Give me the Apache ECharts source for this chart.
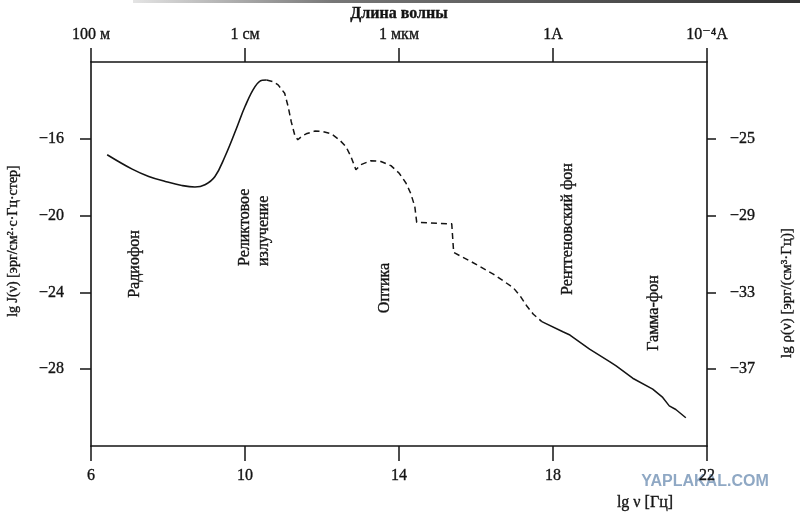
<!DOCTYPE html>
<html>
<head>
<meta charset="utf-8">
<title>Фоновые излучения</title>
<script src="https://cdn.jsdelivr.net/npm/echarts@6/dist/echarts.min.js"></script>
<style>
    html, body { margin: 0; padding: 0; background: #fff; }
    #chart { width: 800px; height: 512px; }
</style>
</head>
<body>
<div id="chart"></div>
<script>
// ======================
// DATA
// ======================

// lg ν [Гц] ticks and the matching wavelength labels on top
const nuTicks = [6, 10, 14, 18, 22];
const wavelengthLabels = ['100 м', '1 см', '1 мкм', '1A', '10⁻⁴A'];

// lg J(ν) ticks (left) and lg ρ(ν) ticks (right)
const lgJTicks = [-28, -24, -20, -16];
const lgRhoTicks = [-37, -33, -29, -25];

// радиофон + реликтовое излучение (сплошная)
const radioNu  = [6.42, 7.07, 7.50, 7.93, 8.36, 8.70, 8.96, 9.22, 9.48, 9.78, 10.00, 10.26, 10.45, 10.56];
const radioLgJ = [-16.83, -17.58, -17.96, -18.22, -18.43, -18.51, -18.39, -17.96, -16.92, -15.45, -14.32, -13.28, -12.95, -12.94];

// ИК / оптика / УФ (штриховая)
const gapNu  = [10.56, 10.72, 10.86, 11.03, 11.12, 11.20, 11.29, 11.37, 11.48, 11.59, 11.81, 12.02, 12.24, 12.45, 12.62, 12.75, 12.88,
                13.01, 13.27, 13.53, 13.79, 14.00, 14.18, 14.30, 14.41, 14.46, 15.37, 15.42, 15.85, 16.46, 16.97, 17.15, 17.32, 17.49, 17.71];
const gapLgJ = [-12.94, -13.02, -13.19, -13.63, -14.32, -15.10, -15.79, -16.05, -15.86, -15.74, -15.60, -15.62, -15.74, -16.05, -16.40, -16.92, -17.61,
                -17.35, -17.14, -17.18, -17.40, -17.78, -18.30, -18.82, -19.52, -20.35, -20.43, -21.92, -22.37, -23.06, -23.76, -24.19, -24.71, -25.14, -25.52];

// рентгеновский фон + гамма-фон (сплошная)
const xrayNu  = [17.71, 18.27, 18.44, 18.95, 19.47, 19.64, 20.07, 20.59, 20.85, 21.02, 21.19, 21.45];
const xrayLgJ = [-25.52, -26.06, -26.22, -26.96, -27.60, -27.83, -28.47, -29.04, -29.47, -29.91, -30.10, -30.53];

// ======================
// HELPERS
// ======================

const FONT = '"Liberation Serif", "DejaVu Serif", serif';
const INK = '#141414';

const zip = (xs, ys) => xs.map((x, i) => [x, ys[i]]);
const minus = v => String(v).replace('-', '−');

// scanned print looks a little heavier than plain text
const heavy = { textBorderColor: INK, textBorderWidth: 0.35 };

function note(text, x, y, align) {
    return {
        type: 'text',
        x: x,
        y: y,
        rotation: Math.PI / 2,
        style: {
            text: text,
            fill: INK,
            font: '16px ' + FONT,
            textAlign: align || 'center',
            textVerticalAlign: 'middle',
            lineHeight: 19,
            stroke: INK,
            lineWidth: 0.35
        }
    };
}

function label(text, x, y, font, rotated) {
    return {
        type: 'text',
        x: x,
        y: y,
        rotation: rotated ? Math.PI / 2 : 0,
        style: {
            text: text,
            fill: INK,
            font: font,
            textAlign: 'center',
            textVerticalAlign: 'middle',
            stroke: INK,
            lineWidth: 0.35
        }
    };
}

// ======================
// CHART
// ======================

const chart = echarts.init(document.getElementById('chart'), null, { renderer: 'canvas' });

const axisLine = { show: true, lineStyle: { color: INK, width: 1.6 } };
const tickLabel = Object.assign({ color: INK, fontFamily: FONT, fontSize: 16 }, heavy);

const option = {
    animation: false,
    backgroundColor: '#fff',
    grid: { left: 91, right: 93, top: 62, bottom: 66 },
    xAxis: [{
        type: 'value',
        position: 'bottom',
        min: 6,
        max: 22,
        interval: 4,
        axisLine: axisLine,
        axisTick: { show: true, length: 15, lineStyle: { color: INK, width: 1.5 } },
        axisLabel: Object.assign({ margin: 22 }, tickLabel),
        splitLine: { show: false }
    }, {
        type: 'value',
        position: 'top',
        min: 6,
        max: 22,
        interval: 4,
        axisLine: axisLine,
        axisTick: { show: true, length: 14, lineStyle: { color: INK, width: 1.5 } },
        axisLabel: Object.assign({
            margin: 19,
            formatter: v => wavelengthLabels[nuTicks.indexOf(v)] || ''
        }, tickLabel),
        splitLine: { show: false }
    }],
    yAxis: [{
        type: 'value',
        position: 'left',
        min: -32,
        max: -12,
        interval: 4,
        axisLine: axisLine,
        axisTick: { show: true, length: 11, customValues: lgJTicks, lineStyle: { color: INK, width: 1.5 } },
        axisLabel: Object.assign({ margin: 27, customValues: lgJTicks, formatter: minus }, tickLabel),
        splitLine: { show: false }
    }, {
        type: 'value',
        position: 'right',
        min: -41,
        max: -21,
        axisLine: axisLine,
        axisTick: { show: true, length: 9, customValues: lgRhoTicks, lineStyle: { color: INK, width: 1.5 } },
        axisLabel: Object.assign({ margin: 23, customValues: lgRhoTicks, formatter: minus }, tickLabel),
        splitLine: { show: false }
    }],
    series: [{
        name: 'radio',
        type: 'line',
        data: zip(radioNu, radioLgJ),
        smooth: 0.4,
        showSymbol: false,
        lineStyle: { color: INK, width: 1.6 }
    }, {
        name: 'gap',
        type: 'line',
        data: zip(gapNu, gapLgJ),
        smooth: false,
        showSymbol: false,
        lineStyle: { color: INK, width: 1.5, type: [6, 4] }
    }, {
        name: 'xray',
        type: 'line',
        data: zip(xrayNu, xrayLgJ),
        smooth: false,
        showSymbol: false,
        lineStyle: { color: INK, width: 1.5 }
    }],
    graphic: [
        // scan edge at the top
        {
            type: 'rect',
            shape: { x: 133, y: 0, width: 667, height: 3 },
            style: {
                fill: new echarts.graphic.LinearGradient(0, 0, 1, 0, [
                    { offset: 0, color: '#e4e4e4' },
                    { offset: 0.3, color: '#777' },
                    { offset: 1, color: '#333' }
                ])
            }
        },
        label('Длина волны', 399, 14, 'bold 16px ' + FONT),
        label('lg ν [Гц]', 645, 503, '16px ' + FONT),
        label('lg J(ν) [эрг/см²·с·Гц·стер]', 13, 241, '14px ' + FONT, true),
        label('lg ρ(ν) [эрг/(см³·Гц)]', 787, 293, '15px ' + FONT, true),
        note('Радиофон', 135, 264),
        note('Реликтовое\nизлучение', 254, 266, 'left'),
        note('Оптика', 385, 288),
        note('Рентгеновский фон', 568, 229),
        note('Гамма-фон', 654, 313),
        {
            type: 'text', x: 705, y: 482,
            style: { text: 'YAPLAKAL.COM', fill: '#8fa8c4', font: 'bold 16px "Liberation Sans", "DejaVu Sans", sans-serif', textAlign: 'center', textVerticalAlign: 'middle' }
        }
    ]
};

chart.setOption(option);
</script>
</body>
</html>
